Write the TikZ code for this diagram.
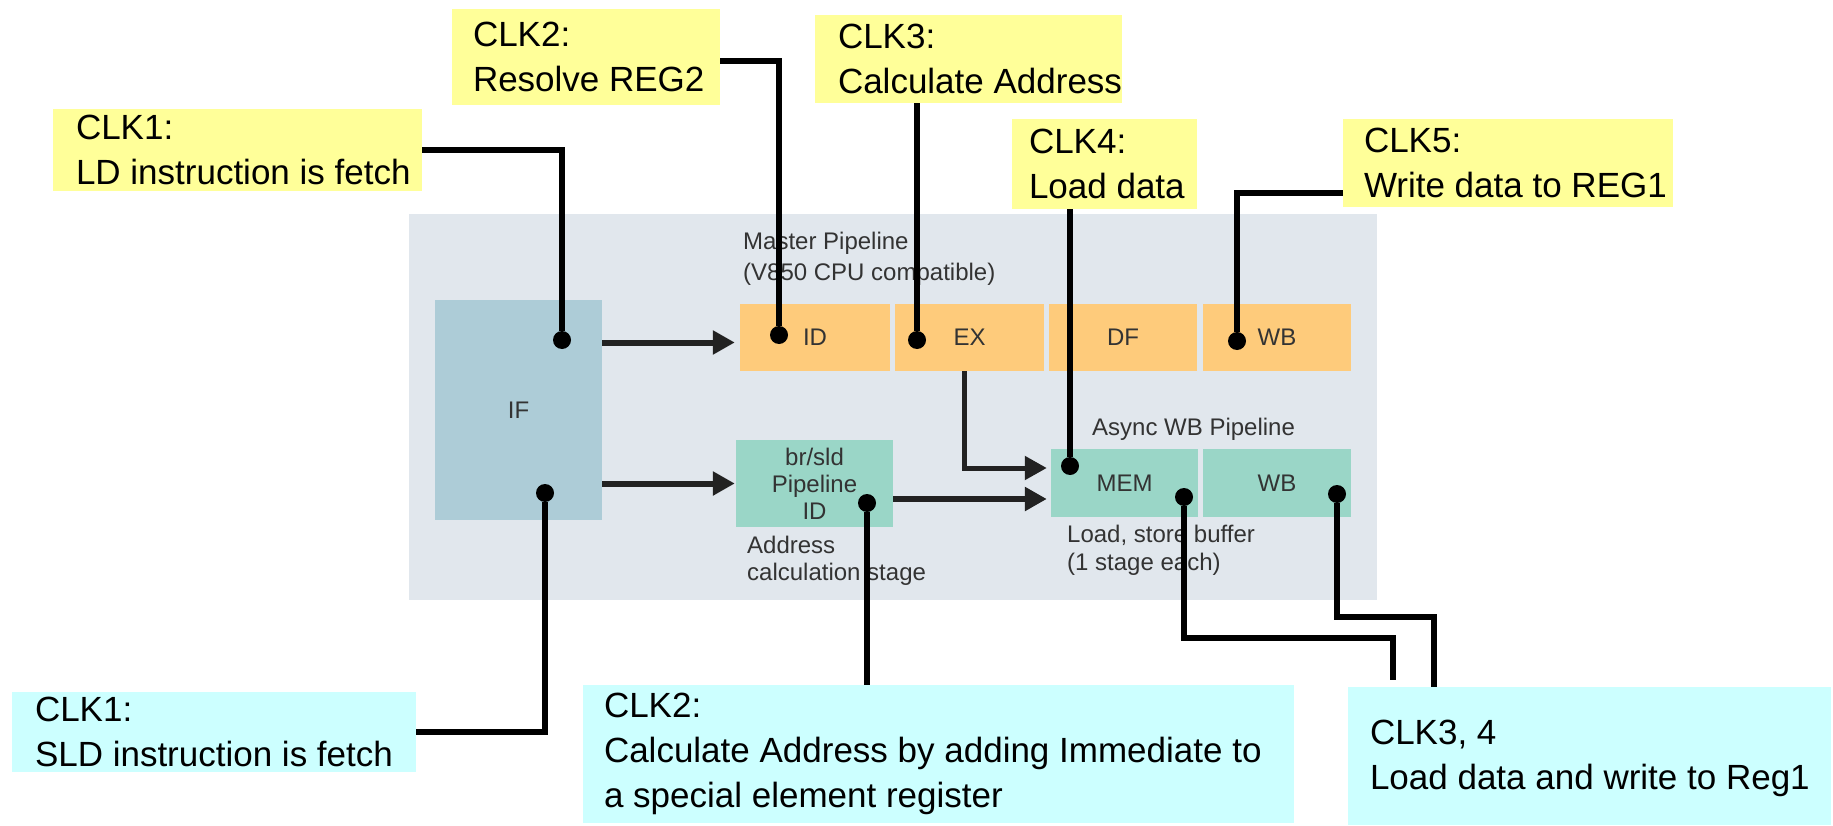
\documentclass[tikz,border=0pt]{standalone}
\usepackage{fontspec}
\setmainfont{Liberation Sans}
\usetikzlibrary{arrows.meta,calc}

\definecolor{panelgray}{HTML}{E1E7ED}
\definecolor{ifblue}{HTML}{ADCCD7}
\definecolor{stageorange}{HTML}{FECB7B}
\definecolor{stageteal}{HTML}{9AD6C7}
\definecolor{calloutyellow}{HTML}{FFFF99}
\definecolor{calloutcyan}{HTML}{CCFFFF}
\definecolor{labelgray}{HTML}{333333}
\definecolor{arrowgray}{HTML}{222222}

\begin{document}
\begin{tikzpicture}[x=1pt,y=-1pt,
  link/.style={line width=5.5pt, draw=black},
  arr/.style={line width=6pt, draw=arrowgray, -{Triangle[length=22pt,width=23pt]}},
  dot/.style={circle, fill=black, inner sep=0pt, minimum size=18pt},
  ybox/.style={fill=calloutyellow, inner sep=0pt},
  cbox/.style={fill=calloutcyan, inner sep=0pt},
  ctext/.style={anchor=west, inner sep=0pt, align=left, font=\fontsize{35}{45}\selectfont},
  stage/.style={inner sep=0pt, font=\fontsize{24}{27}\selectfont, text=labelgray},
  ptext/.style={anchor=base west, inner sep=0pt, font=\fontsize{24}{27}\selectfont, text=labelgray},
]
\useasboundingbox (0,0) rectangle (1833,826);

% ---- pipeline panel ----
\node[fill=panelgray, inner sep=0pt, minimum width=968pt, minimum height=386pt] (panel) at (893,407) {};
\node[stage, fill=ifblue, minimum width=167pt, minimum height=220pt] (if) at (518.5,410) {IF};

\node[ptext] (mp1) at (743,250) {Master Pipeline};
\node[ptext] (mp2) at (743,280) {(V850 CPU compatible)};

\node[stage, fill=stageorange, minimum width=150pt, minimum height=67pt] (id) at (815,337.5) {ID};
\node[stage, fill=stageorange, minimum width=149pt, minimum height=67pt] (ex) at (969.5,337.5) {EX};
\node[stage, fill=stageorange, minimum width=148pt, minimum height=67pt] (df) at (1123,337.5) {DF};
\node[stage, fill=stageorange, minimum width=148pt, minimum height=67pt] (wb) at (1277,337.5) {WB};

\node[stage, fill=stageteal, minimum width=157pt, minimum height=87pt, align=center] (br) at (814.5,483.5) {br/sld\\Pipeline\\ID};
\node[ptext] (ac1) at (747,553) {Address};
\node[ptext] (ac2) at (747,580) {calculation stage};

\node[ptext] (aw) at (1092,435) {Async WB Pipeline};
\node[stage, fill=stageteal, minimum width=147pt, minimum height=68pt] (mem) at (1124.5,483) {MEM};
\node[stage, fill=stageteal, minimum width=148pt, minimum height=68pt] (wb2) at (1277,483) {WB};
\node[ptext] (lb1) at (1067,542) {Load, store buffer};
\node[ptext] (lb2) at (1067,570) {(1 stage each)};

% ---- data flow arrows ----
\draw[arr] ($(if.east |- id.west)+(0,5)$) -- ($(id.west)+(-5,5)$);
\draw[arr] (if.east |- br.west) -- ($(br.west)+(-1,0)$);
\draw[arr] ($(br.east)+(0,15.5)$) -- ($(mem.west)+(-4,16)$);
\draw[arr, line width=5pt] ($(ex.south)+(-5,0)$) |- ($(mem.west)+(-4,-15)$);

% ---- callouts ----
\node[ybox, minimum width=369pt, minimum height=82pt] (l1) at (237.5,150) {};
\node[ctext] (t1) at ($(l1.west)+(23,0)$) {CLK1:\\LD instruction is fetch};

\node[ybox, minimum width=268pt, minimum height=96pt] (l2) at (586,57) {};
\node[ctext] (t2) at ($(l2.west)+(21,0)$) {CLK2:\\Resolve REG2};

\node[ybox, minimum width=307pt, minimum height=88pt] (l3) at (968.5,59) {};
\node[ctext] (t3) at ($(l3.west)+(23,0)$) {CLK3:\\Calculate Address};

\node[ybox, minimum width=185pt, minimum height=90pt] (l4) at (1104.5,164) {};
\node[ctext] (t4) at ($(l4.west)+(17,0)$) {CLK4:\\Load data};

\node[ybox, minimum width=330pt, minimum height=88pt] (l5) at (1508,163) {};
\node[ctext] (t5) at ($(l5.west)+(21,0)$) {CLK5:\\Write data to REG1};

\node[cbox, minimum width=404pt, minimum height=80pt] (s1) at (214,732) {};
\node[ctext] (u1) at ($(s1.west)+(23,0)$) {CLK1:\\SLD instruction is fetch};

\node[cbox, minimum width=711pt, minimum height=138pt] (s2) at (938.5,754) {};
\node[ctext] (u2) at ($(s2.west)+(21,0)$) {CLK2:\\Calculate Address by adding Immediate to\\a special element register};

\node[cbox, minimum width=483pt, minimum height=138pt] (s3) at (1589.5,756) {};
\node[ctext] (u3) at ($(s3.west)+(22,2)$) {CLK3, 4\\Load data and write to Reg1};

% ---- probe points ----
\node[dot] (d1) at (562,340) {};
\node[dot] (d2) at (779,335) {};
\node[dot] (d3) at (917,340) {};
\node[dot] (d4) at (1070,466) {};
\node[dot] (d5) at (1237,341) {};
\node[dot] (d6) at (545,493) {};
\node[dot] (d7) at (867,503) {};
\node[dot] (d8) at (1184,497) {};
\node[dot] (d9) at (1337,494) {};

% ---- callout leaders ----
\draw[link] (l1.east) -| (d1);
\draw[link] ($(l2.east)+(0,4)$) -| (d2);
\draw[link] (l3.south -| d3) -- (d3);
\draw[link] (l4.south -| d4) -- (d4);
\draw[link] ([yshift=14pt]l5.south west) -| (d5);
\draw[link] (s1.east) -| (d6);
\draw[link] (s2.north -| d7) -- (d7);
\coordinate (k8) at (1393,638);
\draw[link] (d8) |- (k8) -- ++(0,42);
\coordinate (k9) at (1434,617);
\draw[link] (d9) |- (k9) -- (k9 |- s3.north);
\end{tikzpicture}
\end{document}
